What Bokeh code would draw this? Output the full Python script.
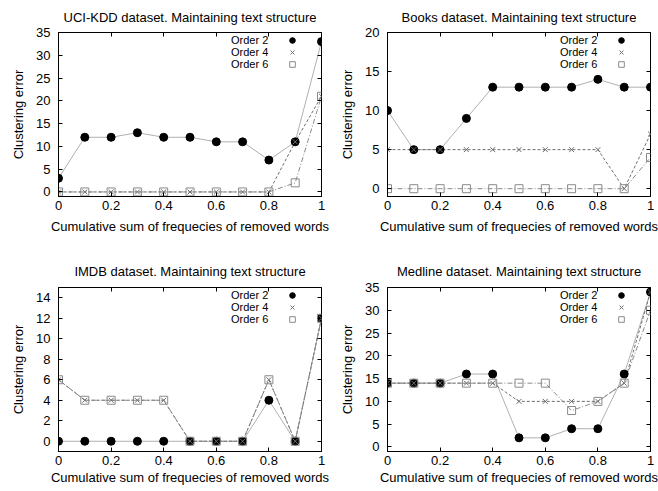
from bokeh.plotting import figure
from bokeh.layouts import column, row
from bokeh.models import (LinearAxis, FixedTicker, Range1d, Legend, LegendItem,
                          CustomLabelingPolicy)
from bokeh.embed import file_html
from bokeh.resources import INLINE

# ---------------- data ----------------
x_vals = [0.0, 0.1, 0.2, 0.3, 0.4, 0.5, 0.6, 0.7, 0.8, 0.9, 1.0]
series_names = ["Order 2", "Order 4", "Order 6"]

uci_title = "UCI-KDD dataset. Maintaining text structure"
uci_o2 = [3, 12, 12, 13, 12, 12, 11, 11, 7, 11, 33]
uci_o4 = [0, 0, 0, 0, 0, 0, 0, 0, 0, 11, 21]
uci_o6 = [0, 0, 0, 0, 0, 0, 0, 0, 0, 2, 21]

books_title = "Books dataset. Maintaining text structure"
books_o2 = [10, 5, 5, 9, 13, 13, 13, 13, 14, 13, 13]
books_o4 = [5, 5, 5, 5, 5, 5, 5, 5, 5, 0, 7]
books_o6 = [0, 0, 0, 0, 0, 0, 0, 0, 0, 0, 4]

imdb_title = "IMDB dataset. Maintaining text structure"
imdb_o2 = [0, 0, 0, 0, 0, 0, 0, 0, 4, 0, 12]
imdb_o4 = [6, 4, 4, 4, 4, 0, 0, 0, 6, 0, 12]
imdb_o6 = [6, 4, 4, 4, 4, 0, 0, 0, 6, 0, 12]

medline_title = "Medline dataset. Maintaining text structure"
medline_o2 = [14, 14, 14, 16, 16, 2, 2, 4, 4, 16, 34]
medline_o4 = [14, 14, 14, 14, 14, 10, 10, 10, 10, 14, 34]
medline_o6 = [14, 14, 14, 14, 14, 14, 14, 8, 10, 14, 30]

x_ticks = [0, 0.2, 0.4, 0.6, 0.8, 1]
x_tick_labels = ["0", "0.2", "0.4", "0.6", "0.8", "1"]
uci_yticks = [0, 5, 10, 15, 20, 25, 30, 35]
books_yticks = [0, 5, 10, 15, 20]
imdb_yticks = [0, 2, 4, 6, 8, 10, 12, 14]
medline_yticks = [0, 5, 10, 15, 20, 25, 30, 35]

x_label = "Cumulative sum of frequecies of removed words"
y_label = "Clustering error"

FONT = "Liberation Sans"
C2_LINE = "#b0b0b0"
C4 = "#6e6e6e"
C6 = "#8a8a8a"
FRAME_W = 263
FRAME_H = 164


def make_panel(title, o2, o4, o6, yticks, ymax, bl, br, bt, bb,
               xlabel_standoff, title_standoff):
    p = figure(frame_width=FRAME_W, frame_height=FRAME_H, output_backend="svg",
               toolbar_location=None, title=title,
               x_range=Range1d(0, 1), y_range=Range1d(-1, ymax),
               min_border_left=bl, min_border_right=br,
               min_border_top=bt, min_border_bottom=bb)
    p.background_fill_color = "white"
    p.border_fill_color = "white"
    p.outline_line_color = "black"
    p.outline_line_width = 1
    p.grid.visible = False

    p.title.text_font = FONT
    p.title.text_font_size = "13px"
    p.title.text_font_style = "normal"
    p.title.text_color = "black"
    p.title.align = "center"
    p.title.standoff = title_standoff

    xax = p.xaxis[0]
    yax = p.yaxis[0]
    xax.ticker = FixedTicker(ticks=x_ticks)
    xax.major_label_overrides = {t: s for t, s in zip(x_ticks, x_tick_labels)}
    yax.ticker = FixedTicker(ticks=yticks)
    for ax in (xax, yax):
        ax.major_tick_in = 4
        ax.major_tick_out = 0
        ax.minor_tick_in = 0
        ax.minor_tick_out = 0
        ax.axis_line_color = "black"
        ax.major_tick_line_color = "black"
        ax.major_label_text_font = FONT
        ax.major_label_text_font_size = "13px"
        ax.major_label_text_color = "black"
        ax.axis_label_text_font = FONT
        ax.axis_label_text_font_size = "13px"
        ax.axis_label_text_font_style = "normal"
        ax.axis_label_text_color = "black"
    xax.axis_label = x_label
    yax.axis_label = y_label
    xax.major_label_standoff = 4
    xax.axis_label_standoff = xlabel_standoff
    yax.major_label_standoff = 8
    yax.axis_label_standoff = 7

    # mirrored inward ticks on the right and top, without labels
    for side, tk in (("right", yticks), ("above", x_ticks)):
        ax = LinearAxis(ticker=FixedTicker(ticks=tk))
        ax.major_tick_in = 4
        ax.major_tick_out = 0
        ax.minor_tick_in = 0
        ax.minor_tick_out = 0
        ax.axis_line_color = None
        ax.major_tick_line_color = "black"
        ax.major_label_text_font_size = "0px"
        ax.major_label_standoff = 0
        ax.major_label_policy = CustomLabelingPolicy(
            code="for (const i of Array.from(indices)) { indices.unset(i) }; return indices")
        p.add_layout(ax, side)

    p.line(x_vals, o2, line_color=C2_LINE, line_width=1)
    p.line(x_vals, o4, line_color=C4, line_width=1, line_dash="3 2")
    p.line(x_vals, o6, line_color=C6, line_width=1, line_dash="5 2 1 2")

    r2 = p.scatter(x_vals, o2, marker="circle", size=8,
                   fill_color="black", line_color="black")
    r4 = p.scatter(x_vals, o4, marker="x", size=7,
                   line_color=C4, line_width=1)
    r6 = p.scatter(x_vals, o6, marker="square", size=8,
                   fill_color=None, line_color=C6, line_width=1)
    rs = [r2, r4, r6]

    # key: one row per series, label text to the left of its marker
    common = dict(padding=0, margin=0, spacing=0, glyph_height=14, label_height=14,
                  label_standoff=0, label_text_font=FONT, label_text_font_size="11px",
                  label_text_color="black", border_line_color=None,
                  background_fill_alpha=0)
    for i, (name, r) in enumerate(zip(series_names, rs)):
        yb = FRAME_H - 15 - 12 * i
        p.add_layout(Legend(items=[LegendItem(label=name, renderers=[r])],
                            location=(FRAME_W - 90, yb), glyph_width=0,
                            label_width=0, **common))
        p.add_layout(Legend(items=[LegendItem(label="", renderers=[r])],
                            location=(FRAME_W - 36, yb), glyph_width=14,
                            label_width=0, **common))
    return p


p1 = make_panel(uci_title, uci_o2, uci_o4, uci_o6, uci_yticks, 35, 58, 8, 32, 48, 6, 15)
p2 = make_panel(books_title, books_o2, books_o4, books_o6, books_yticks, 20, 58, 8, 32, 48, 6, 15)
p3 = make_panel(imdb_title, imdb_o2, imdb_o4, imdb_o6, imdb_yticks, 15, 58, 8, 43, 39, 2, 18)
p4 = make_panel(medline_title, medline_o2, medline_o4, medline_o6, medline_yticks, 35, 58, 8, 43, 39, 2, 18)

layout = column(row(p1, p2), row(p3, p4))

with open("out.html", "w") as f:
    f.write(file_html(layout, INLINE))
